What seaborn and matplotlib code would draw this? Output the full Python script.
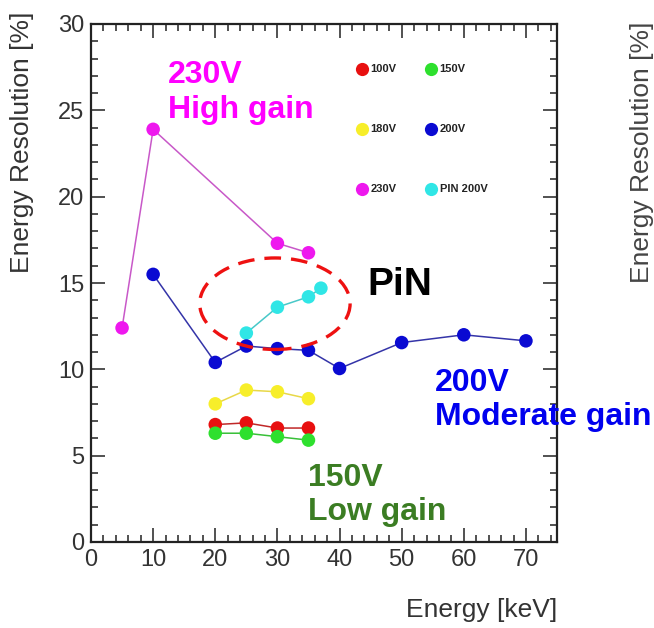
import numpy as np
import pandas as pd
import matplotlib
matplotlib.use("Agg")
import matplotlib.pyplot as plt
import seaborn as sns
from matplotlib.patches import Ellipse
from matplotlib.ticker import MultipleLocator

# ---- data ----
series_names = ["230V", "PIN 200V", "100V", "150V", "180V", "200V"]
energy_230 = [5, 10, 30, 35]
res_230 = [12.4, 23.9, 17.3, 16.75]
energy_pin = [25, 30, 35, 37]
res_pin = [12.1, 13.6, 14.2, 14.7]
energy_100 = [20, 25, 30, 35]
res_100 = [6.8, 6.9, 6.6, 6.6]
energy_150 = [20, 25, 30, 35]
res_150 = [6.3, 6.3, 6.1, 5.9]
energy_180 = [20, 25, 30, 35]
res_180 = [8.0, 8.8, 8.7, 8.3]
energy_200 = [10, 20, 25, 30, 35, 40, 50, 60, 70]
res_200 = [15.5, 10.4, 11.35, 11.2, 11.1, 10.05, 11.55, 12.0, 11.65]

legend_order = ["100V", "150V", "180V", "200V", "230V", "PIN 200V"]

marker_colors = {"100V": "#e81010", "150V": "#2ee02e", "180V": "#f7ee2a",
                 "200V": "#0a0ad2", "230V": "#ee18ee", "PIN 200V": "#30e6e6"}
line_colors = {"100V": "#c02828", "150V": "#38c038", "180V": "#e8d848",
               "200V": "#3434a8", "230V": "#c858c8", "PIN 200V": "#48c8c8"}

frames = []
for name, xs, ys in [("230V", energy_230, res_230), ("PIN 200V", energy_pin, res_pin),
                     ("100V", energy_100, res_100), ("150V", energy_150, res_150),
                     ("180V", energy_180, res_180), ("200V", energy_200, res_200)]:
    frames.append(pd.DataFrame({"energy": xs, "res": ys, "series": name}))
df = pd.concat(frames, ignore_index=True)

# ---- style ----
sns.set_theme(style="ticks")
plt.rcParams["font.family"] = ["Liberation Sans", "DejaVu Sans"]

fig = plt.figure(figsize=(6.54, 6.28), dpi=100)
ax = fig.add_axes([91 / 654, 1 - 542 / 628, 466 / 654, 518 / 628])

sns.lineplot(data=df, x="energy", y="res", hue="series", hue_order=series_names,
             palette=line_colors, sort=False, estimator=None, linewidth=1.1,
             legend=False, ax=ax)
sns.scatterplot(data=df, x="energy", y="res", hue="series", hue_order=series_names,
                palette=marker_colors, s=95, linewidth=0, legend=False, ax=ax, zorder=3)

ax.set_xlim(0, 75)
ax.set_ylim(0, 30)
ax.xaxis.set_major_locator(MultipleLocator(10))
ax.xaxis.set_minor_locator(MultipleLocator(2))
ax.yaxis.set_major_locator(MultipleLocator(5))
ax.yaxis.set_minor_locator(MultipleLocator(1))
ax.tick_params(which="both", direction="in", top=True, right=True, width=1.1,
               color="#222222", labelsize=17, labelcolor="#333333")
ax.tick_params(which="major", length=10, pad=5)
ax.tick_params(which="minor", length=5)
for sp in ax.spines.values():
    sp.set_linewidth(1.6)
    sp.set_color("#222222")
ax.set_xlabel("")
ax.set_ylabel("")

# axis titles (ROOT-style placement)
fig.text(22 / 654, 1 - 12 / 628, "Energy Resolution [%]", rotation=90, ha="center",
         va="top", fontsize=19, color="#333333")
fig.text(557 / 654, 1 - 610 / 628, "Energy [keV]", ha="right", va="center",
         fontsize=19, color="#333333")
# neighbouring panel's axis title (partially visible)
fig.text(642 / 654, 1 - 22 / 628, "Energy Resolution [%]", rotation=90, ha="center",
         va="top", fontsize=19, color="#444444")

# in-plot legend (ROOT style, 3 rows x 2 cols)
col_x = [0.582, 0.730]
row_y = [0.913, 0.797, 0.681]
for i, name in enumerate(legend_order):
    cx = col_x[i % 2]
    ry = row_y[i // 2]
    ax.plot([cx], [ry], "o", transform=ax.transAxes, color=marker_colors[name],
            markersize=9.5, markeredgewidth=0, clip_on=False)
    ax.text(cx + 0.018, ry, name, transform=ax.transAxes, ha="left", va="center",
            fontsize=8, fontweight="bold", color="#222222")

# annotations
ax.text(12.4, 27.9, "230V\nHigh gain", color="#ff00ff", fontsize=23, fontweight="bold",
        ha="left", va="top", linespacing=1.2)
ax.text(44.5, 14.9, "PiN", color="black", fontsize=28, fontweight="bold",
        ha="left", va="center")
ax.text(55.4, 10.1, "200V\nModerate gain", color="#0000ee", fontsize=23, fontweight="bold",
        ha="left", va="top", linespacing=1.2, clip_on=False)
ax.text(35.0, 4.6, "150V\nLow gain", color="#3b7d23", fontsize=23, fontweight="bold",
        ha="left", va="top", linespacing=1.2)

ell = Ellipse((29.6, 13.8), 24.2, 5.3, fill=False, edgecolor="#ee1111",
              linewidth=2.4, linestyle=(0, (5, 3)), zorder=4)
ax.add_patch(ell)

fig.savefig("out.png", dpi=100)
